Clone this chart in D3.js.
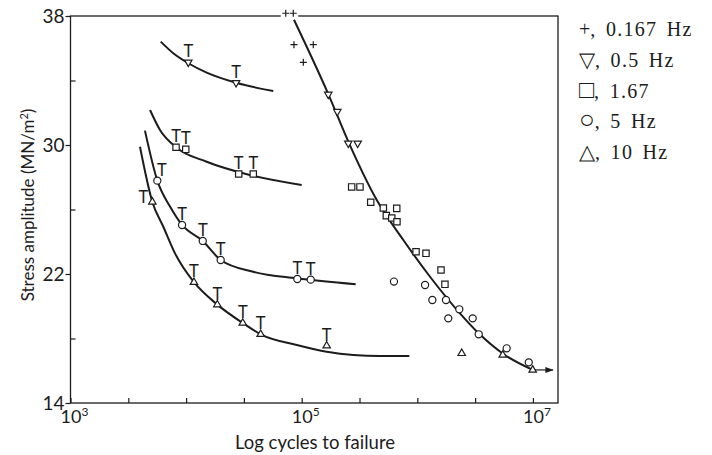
<!DOCTYPE html>
<html>
<head>
<meta charset="UTF-8">
<title>Stress amplitude vs log cycles to failure</title>
<style>
    body { margin: 0; background: #fff; }
    svg { display: block; }
</style>
</head>
<body>
<svg></svg>
<script src="https://d3js.org/d3.v7.min.js"></script>
<script>

    let width = 712, height = 455;
    let ink = "#1c1c1c";

    // axis ticks
    let yMajor = [14, 22, 30, 38];
    let yMinor = [18, 26, 34];
    let xTicks = [1e3, 3162, 1e4, 31623, 1e5, 316228, 1e6, 3162278, 1e7];
    let xLabelVals = [1e3, 1e5, 1e7];
    let xLabelExps = ["3", "5", "7"];

    // fitted curves: [cycles, stress MN/m2]
    let curve05 = [[6030, 36.41], [7745, 35.69], [10447, 35.07], [15066, 34.49], [27040, 33.86], [56754, 33.35]];
    let curve167 = [[4875, 32.17], [5943, 30.93], [8185, 29.86], [15066, 28.96], [32961, 28.2], [100000, 27.52]];
    let curve5 = [[4406, 30.89], [5636, 27.79], [7261, 26.18], [9226, 25.04], [13932, 24.05], [19907, 22.87],
                  [38107, 22.14], [90573, 21.73], [293089, 21.36]];
    let curve10 = [[3990, 29.89], [5105, 26.47], [6353, 24.93], [8017, 23.28], [11695, 21.49], [18621, 20.1],
                   [30903, 18.96], [44157, 18.26], [90573, 17.6], [164437, 17.18], [475335, 16.91], [853070, 16.91]];
    let curveMain = [[85704, 37.77], [169824, 33.16], [256448, 30.12], [445656, 26.59], [756833, 24.11],
                     [1288250, 21.83], [2338809, 19.56], [3396253, 18.32], [5546257, 17.04], [9954054, 16.05]];

    // data points: [cycles, stress, T mark position]
    let pts0167 = [[72778, 38.17], [84528, 38.17], [85704, 36.22], [125893, 36.22], [103276, 35.13]];
    let pts05 = [[10447, 35.13, "up"], [27040, 33.86, "up"], [169824, 33.14], [203236, 32.07],
                 [252930, 30.11], [304789, 30.11]];
    let pts167 = [[8185, 29.86, "up"], [9931, 29.73, "up"], [28510, 28.2, "up"], [38107, 28.2, "up"],
                  [270396, 27.4], [319154, 27.4], [395367, 26.45], [508159, 26.09], [663743, 26.07],
                  [539511, 25.62], [601174, 25.47], [666807, 25.24], [974990, 23.38], [1188502, 23.28],
                  [1603245, 22.25], [1733803, 21.36]];
    let pts5 = [[5636, 27.79, "right"], [9226, 25.04, "up"], [13932, 24.05, "up"], [19907, 22.87, "up"],
                [91622, 21.69, "up"], [119674, 21.65, "up"],
                [628058, 21.53], [1166810, 21.32], [1348963, 20.39], [1770109, 20.39], [2307324, 19.81],
                [1853532, 19.25], [3013006, 19.25], [3396253, 18.26], [5929253, 17.39], [9204496, 16.52]];
    let pts10 = [[5105, 26.47, "left"], [11695, 21.49, "up"], [18621, 20.1, "up"], [30903, 18.96, "up"],
                 [44157, 18.26, "up"], [164437, 17.55, "up"],
                 [2421029, 17.08], [5482714, 16.98], [9954054, 16.05]];
    let runout = [9954054, 14900000, 16.05];

    let legendSymbols = ["+", "\u25BD", "\u25A1", "\u25CB", "\u25B3"];
    let legendSymbolSize = [20, 21, 25, 26, 21];
    let legendLabels = [", 0.167 Hz", ", 0.5 Hz", ", 1.67", ", 5 Hz", ", 10 Hz"];

    let svg = d3.select("svg")
        .attr("width", width)
        .attr("height", height);

    let x = d3.scaleLog().domain([1e3, 1.648e7]).range([70.5, 558]);
    let y = d3.scaleLinear().domain([14, 38]).range([403, 16]);

    // frame
    svg.append("rect")
        .attr("x", x.range()[0]).attr("y", y.range()[1])
        .attr("width", x.range()[1] - x.range()[0])
        .attr("height", y.range()[0] - y.range()[1])
        .attr("fill", "none")
        .attr("stroke", ink)
        .attr("stroke-width", 1.3);

    // y axis: labelled ticks outside, minor ticks inside
    let yAxis = svg.append("g")
        .attr("transform", "translate(" + x.range()[0] + ",0)")
        .call(d3.axisLeft(y).tickValues(yMajor).tickSize(5).tickPadding(1));
    yAxis.select(".domain").remove();
    yAxis.selectAll("text")
        .attr("fill", ink)
        .style("font-family", "Lato, 'Open Sans', sans-serif")
        .style("font-size", "19px");
    yAxis.selectAll("line").attr("stroke", ink).attr("stroke-width", 1.2);

    let yAxisMinor = svg.append("g")
        .attr("transform", "translate(" + x.range()[0] + ",0)")
        .call(d3.axisRight(y).tickValues(yMinor).tickSize(5).tickFormat(""));
    yAxisMinor.select(".domain").remove();
    yAxisMinor.selectAll("line").attr("stroke", ink).attr("stroke-width", 1.2);

    // x axis ticks point up into the plot
    let xAxis = svg.append("g")
        .attr("transform", "translate(0," + y.range()[0] + ")")
        .call(d3.axisTop(x).tickValues(xTicks).tickSize(5).tickFormat(""));
    xAxis.select(".domain").remove();
    xAxis.selectAll("line").attr("stroke", ink).attr("stroke-width", 1.2);

    let xLab = svg.append("g")
        .selectAll("text")
        .data(xLabelVals)
        .enter()
        .append("text")
        .attr("x", d => x(d) + 4)
        .attr("y", 423)
        .attr("text-anchor", "middle")
        .attr("fill", ink)
        .style("font-family", "Lato, 'Open Sans', sans-serif")
        .style("font-size", "18px");
    xLab.append("tspan").text("10");
    xLab.append("tspan")
        .attr("dy", -7)
        .style("font-size", "12px")
        .text((d, i) => xLabelExps[i]);

    // axis titles
    svg.append("text")
        .attr("x", 315)
        .attr("y", 449)
        .attr("text-anchor", "middle")
        .attr("fill", ink)
        .style("font-family", "Lato, 'Open Sans', sans-serif")
        .style("font-size", "18.5px")
        .text("Log cycles to failure");

    let yTitle = svg.append("text")
        .attr("transform", "translate(34,205) rotate(-90)")
        .attr("text-anchor", "middle")
        .attr("fill", ink)
        .style("font-family", "Lato, 'Open Sans', sans-serif")
        .style("font-size", "17px");
    yTitle.append("tspan").text("Stress amplitude (MN/m");
    yTitle.append("tspan").attr("dy", -6).style("font-size", "11px").text("2");
    yTitle.append("tspan").attr("dy", 6).text(")");

    // curves
    let line = d3.line()
        .x(d => x(d[0]))
        .y(d => y(d[1]))
        .curve(d3.curveMonotoneX);

    svg.append("g")
        .selectAll("path")
        .data([curve05, curve167, curve5, curve10, curveMain])
        .enter()
        .append("path")
        .attr("d", line)
        .attr("fill", "none")
        .attr("stroke", ink)
        .attr("stroke-width", 2);

    // run-out arrow
    svg.append("defs").append("marker")
        .attr("id", "arrow")
        .attr("viewBox", "0 0 10 10")
        .attr("refX", 9).attr("refY", 5)
        .attr("markerWidth", 7).attr("markerHeight", 7)
        .attr("orient", "auto")
        .append("path")
        .attr("d", "M0,1.5L10,5L0,8.5Z")
        .attr("fill", ink);

    svg.append("line")
        .attr("x1", x(runout[0])).attr("x2", x(runout[1]))
        .attr("y1", y(runout[2])).attr("y2", y(runout[2]))
        .attr("stroke", ink)
        .attr("stroke-width", 1.2)
        .attr("marker-end", "url(#arrow)");

    // markers
    function drawPoints(pts, shape) {
        let g = svg.append("g");
        let sel = g.selectAll("path")
            .data(pts)
            .enter()
            .append("path")
            .attr("fill", "#fff")
            .attr("stroke", ink)
            .attr("stroke-width", 1.2);
        if (shape == "plus") {
            sel.attr("d", "M-3.5,0H3.5M0,-3.5V3.5")
               .attr("transform", d => "translate(" + x(d[0]) + "," + y(d[1]) + ")");
        } else if (shape == "square") {
            sel.attr("d", d3.symbol(d3.symbolSquare, 40))
               .attr("transform", d => "translate(" + x(d[0]) + "," + y(d[1]) + ")");
        } else if (shape == "circle") {
            sel.attr("d", d3.symbol(d3.symbolCircle, 40))
               .attr("transform", d => "translate(" + x(d[0]) + "," + y(d[1]) + ")");
        } else if (shape == "tri") {
            sel.attr("d", d3.symbol(d3.symbolTriangle, 24))
               .attr("transform", d => "translate(" + x(d[0]) + "," + y(d[1]) + ")");
        } else {
            sel.attr("d", d3.symbol(d3.symbolTriangle, 24))
               .attr("transform", d => "translate(" + x(d[0]) + "," + y(d[1]) + ") rotate(180)");
        }

        // T marks
        g.selectAll("text")
            .data(pts.filter(d => d[2]))
            .enter()
            .append("text")
            .attr("x", d => x(d[0]) + (d[2] == "left" ? -9 : d[2] == "right" ? 4.5 : 0))
            .attr("y", d => y(d[1]) + (d[2] == "left" ? 1 : -5))
            .attr("text-anchor", "middle")
            .attr("fill", ink)
            .style("font-family", "Lato, 'Open Sans', sans-serif")
            .style("font-size", "16.5px")
            .text("T");
    }

    // white gap in the top frame around the ++ points
    svg.append("rect")
        .attr("x", x(pts0167[0][0]) - 5)
        .attr("y", y(38) - 3)
        .attr("width", x(pts0167[1][0]) - x(pts0167[0][0]) + 10)
        .attr("height", 6)
        .attr("fill", "#fff");

    drawPoints(pts0167, "plus");
    drawPoints(pts05, "triDown");
    drawPoints(pts167, "square");
    drawPoints(pts5, "circle");
    drawPoints(pts10, "tri");

    // legend
    let legend = svg.append("g")
        .selectAll("text")
        .data(legendLabels)
        .enter()
        .append("text")
        .attr("x", 579)
        .attr("y", (d, i) => 36 + i * 30.8)
        .attr("fill", ink)
        .style("font-family", "'Liberation Serif', 'Times New Roman', serif")
        .style("font-size", "20px")
        .style("letter-spacing", "1.3px")
        .style("word-spacing", "3px");
    legend.append("tspan")
        .style("font-size", (d, i) => legendSymbolSize[i] + "px")
        .style("letter-spacing", "0px")
        .text((d, i) => legendSymbols[i]);
    legend.append("tspan").text(d => d);

</script>
</body>
</html>
